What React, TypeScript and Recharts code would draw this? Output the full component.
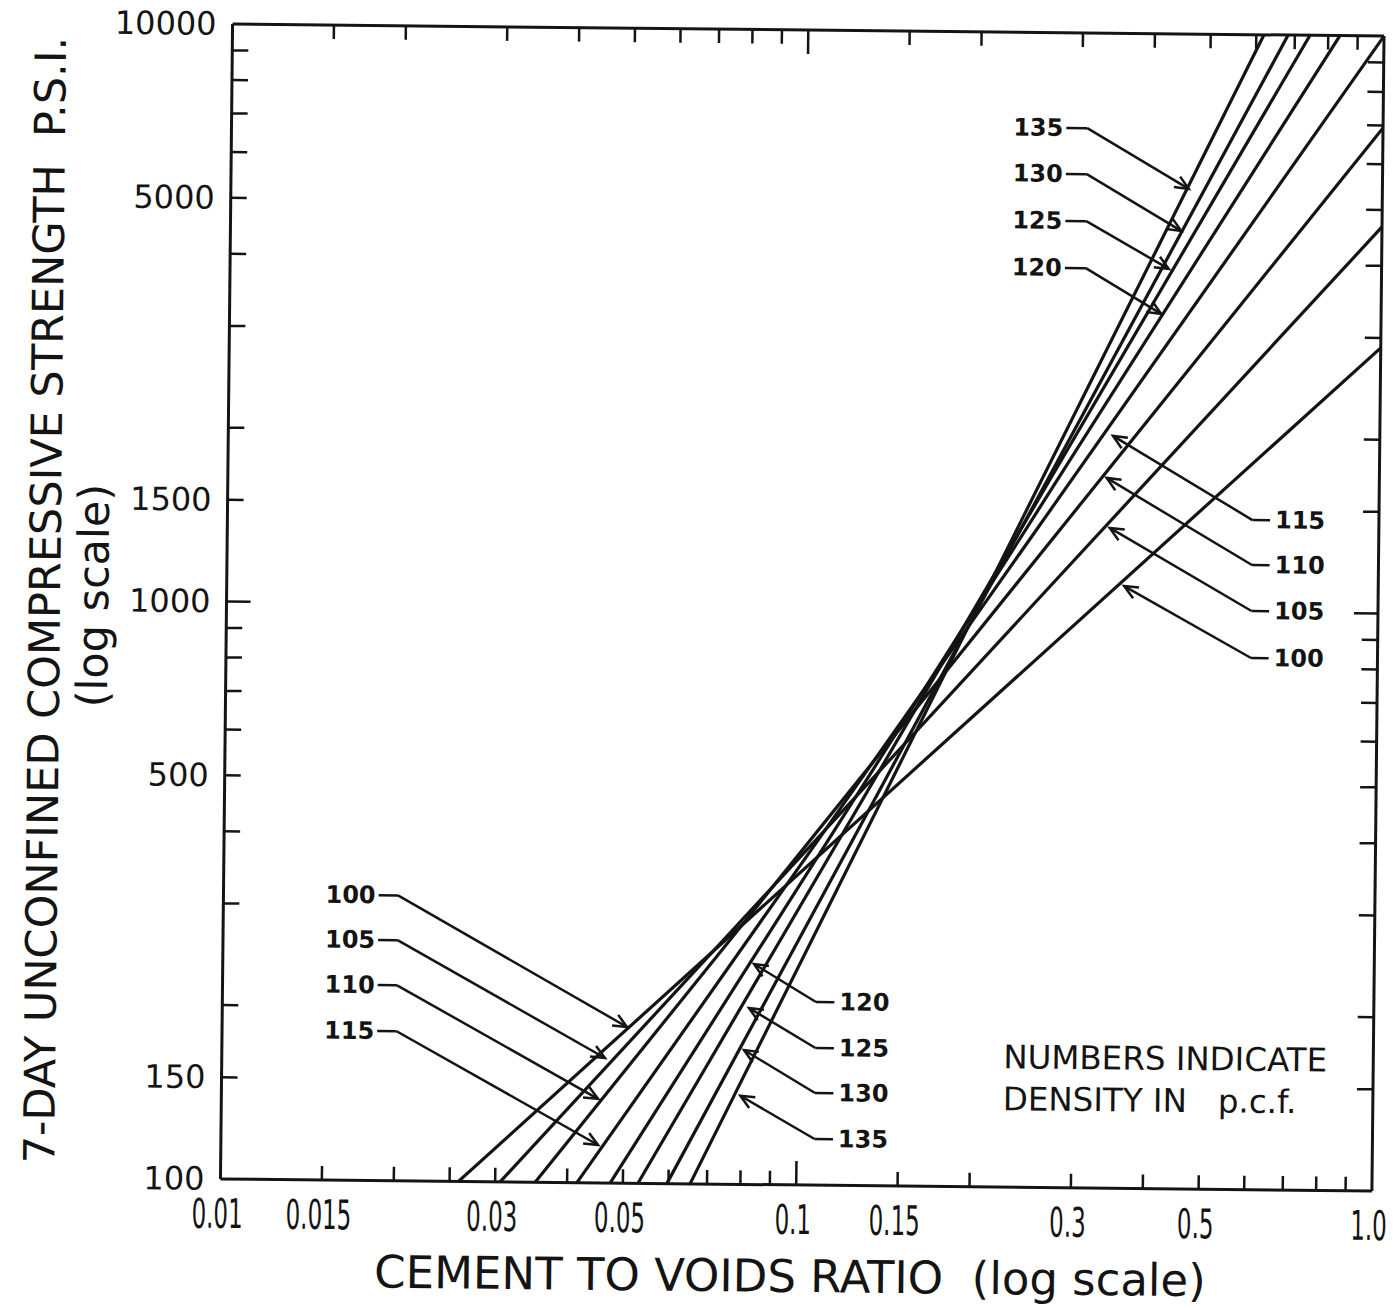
import { LineChart, Line, XAxis, YAxis, ReferenceLine } from "recharts"

const ink = "#141414"

const densities = [100, 105, 110, 115, 120, 125, 130, 135]
// cement/voids ratio where each density line leaves the 100 psi floor
const startRatio = [0.0259, 0.0306, 0.0352, 0.0416, 0.0475, 0.0531, 0.0596, 0.0654]
// where each line runs off the chart (right edge or top edge)
const endRatio = [1.0, 1.0, 1.0, 1.0, 0.8385, 0.7439, 0.6815, 0.6188]
const endStrength = [2884, 4672, 6931, 10000, 10000, 10000, 10000, 10000]

const xTicksBottom = [0.01, 0.015, 0.02, 0.025, 0.03, 0.04, 0.05, 0.06, 0.07, 0.08, 0.09, 0.1, 0.15, 0.2, 0.3, 0.4, 0.5, 0.6, 0.7, 0.8, 0.9, 1]
const xTicksTop = [0.01, 0.015, 0.02, 0.03, 0.04, 0.05, 0.06, 0.07, 0.08, 0.09, 0.1, 0.15, 0.2, 0.3, 0.4, 0.5, 0.6, 0.7, 0.8, 0.9, 1]
const yTicks = [100, 150, 200, 300, 400, 500, 600, 700, 800, 900, 1000, 1500, 2000, 3000, 4000, 5000, 6000, 7000, 8000, 9000, 10000]
const xTickLabels = [0.01, 0.015, 0.03, 0.05, 0.1, 0.15, 0.3, 0.5, 1]
const yTickLabels = [100, 150, 500, 1000, 1500, 5000, 10000]

// density callouts (label, stub height in psi, arrow tip in data units)
const upperLeftLabels = [135, 130, 125, 120]
const upperLeftStubY = [6841, 5695, 4722, 3915]
const upperLeftTipX = [0.461, 0.448, 0.427, 0.415]
const upperLeftTipY = [5393, 4560, 3917, 3272]

const upperRightLabels = [115, 110, 105, 100]
const upperRightStubY = [1444, 1207, 1005, 833]
const upperRightTipX = [0.344, 0.336, 0.341, 0.362]
const upperRightTipY = [2008, 1698, 1391, 1104]

const lowerLeftLabels = [100, 105, 110, 115]
const lowerLeftStubY = [312, 261, 218, 181.5]
const lowerLeftTipX = [0.0505, 0.0463, 0.0451, 0.0452]
const lowerLeftTipY = [186.4, 164.6, 139.8, 116.3]

const lowerRightLabels = [120, 125, 130, 135]
const lowerRightStubY = [207.6, 172.8, 144.4, 120.2]
const lowerRightTipX = [0.0837, 0.0822, 0.0807, 0.0797]
const lowerRightTipY = [240.9, 202.1, 170.9, 142.4]

type Side = "left" | "right"
type Callout = { label: number; side: Side; outerX: number; elbowX: number; stubY: number; tipX: number; tipY: number }

function group(labels: number[], stubY: number[], tipX: number[], tipY: number[], side: Side, outerX: number, elbowX: number): Callout[] {
  return labels.map((label, i) => ({ label, side, outerX, elbowX, stubY: stubY[i], tipX: tipX[i], tipY: tipY[i] }))
}

const callouts: Callout[] = [
  ...group(upperLeftLabels, upperLeftStubY, upperLeftTipX, upperLeftTipY, "left", 0.2818, 0.3064),
  ...group(upperRightLabels, upperRightStubY, upperRightTipX, upperRightTipY, "right", 0.647, 0.603),
  ...group(lowerLeftLabels, lowerLeftStubY, lowerLeftTipX, lowerLeftTipY, "left", 0.0186, 0.0201),
  ...group(lowerRightLabels, lowerRightStubY, lowerRightTipX, lowerRightTipY, "right", 0.1156, 0.1074),
]

const fmtX = (v: number) => (v === 1 ? "1.0" : String(v))

function bottomTick(p: any) {
  const { x, y, payload } = p
  const v = payload.value
  const len = v === 0.1 ? 24 : 14
  const edge = v === 0.01 || v === 1
  return (
    <g>
      {!edge && <line x1={x} y1={y} x2={x} y2={y - len} stroke={ink} strokeWidth={2.5} />}
      {xTickLabels.includes(v) && (
        <text transform={`translate(${x - 3},${y + 49}) scale(0.56,1)`} textAnchor="middle" fontSize={41} fill={ink}>
          {fmtX(v)}
        </text>
      )}
    </g>
  )
}

function topTick(p: any) {
  const { x, y, payload } = p
  const v = payload.value
  if (v === 0.01 || v === 1) return <g />
  const len = v === 0.1 ? 24 : 14
  return <line x1={x} y1={y} x2={x} y2={y + len} stroke={ink} strokeWidth={2.5} />
}

function leftTick(p: any) {
  const { x, y, payload } = p
  const v = payload.value
  const len = v === 1000 ? 24 : 16
  const edge = v === 100 || v === 10000
  return (
    <g>
      {!edge && <line x1={x} y1={y} x2={x + len} y2={y} stroke={ink} strokeWidth={2.5} />}
      {yTickLabels.includes(v) && (
        <text x={x - 16} y={y} textAnchor="end" dominantBaseline="central" fontSize={32} fill={ink}>
          {v}
        </text>
      )}
    </g>
  )
}

function rightTick(p: any) {
  const { x, y, payload } = p
  const v = payload.value
  if (v === 100 || v === 10000) return <g />
  const len = v === 1000 ? 24 : 16
  return <line x1={x} y1={y} x2={x - len} y2={y} stroke={ink} strokeWidth={2.5} />
}

const stubShape = (label: number, side: Side) => (p: any) => (
  <g>
    <line x1={p.x1} y1={p.y1} x2={p.x2} y2={p.y2} stroke={ink} strokeWidth={2.5} />
    <text
      x={side === "left" ? p.x1 - 3 : p.x1 + 5}
      y={p.y1}
      textAnchor={side === "left" ? "end" : "start"}
      dominantBaseline="central"
      fontSize={24}
      fontWeight={700}
      fill={ink}
    >
      {label}
    </text>
  </g>
)

const arrowShape = (p: any) => {
  const { x1, y1, x2, y2 } = p
  const a = Math.atan2(y2 - y1, x2 - x1)
  const L = 15
  const s = 0.42
  const w1 = `${x2 - L * Math.cos(a - s)},${y2 - L * Math.sin(a - s)}`
  const w2 = `${x2 - L * Math.cos(a + s)},${y2 - L * Math.sin(a + s)}`
  return (
    <g>
      <line x1={x1} y1={y1} x2={x2} y2={y2} stroke={ink} strokeWidth={2.5} />
      <path d={`M${w1} L${x2},${y2} L${w2}`} fill="none" stroke={ink} strokeWidth={2.5} />
    </g>
  )
}

const axisLine = { stroke: ink, strokeWidth: 3 }

export default function App() {
  const series = densities.map((d, i) => ({
    density: d,
    points: [
      { x: startRatio[i], y: 100 },
      { x: endRatio[i], y: endStrength[i] },
    ],
  }))

  return (
    <div
      style={{
        position: "absolute",
        left: 0,
        top: 0,
        width: 1394,
        height: 1310,
        background: "#fff",
        fontFamily: "'DejaVu Sans', sans-serif",
        transform: "rotate(0.6deg)",
        transformOrigin: "802px 607px",
      }}
    >
      <LineChart width={1394} height={1310} margin={{ top: 29, right: 15, bottom: 124, left: 225.5 }}>
        <XAxis
          dataKey="x"
          type="number"
          scale="log"
          domain={[0.01, 1]}
          allowDataOverflow
          ticks={xTicksBottom}
          interval={0}
          height={1}
          tickSize={0}
          tickMargin={0}
          tickLine={false}
          tick={bottomTick}
          axisLine={axisLine}
        />
        <XAxis
          xAxisId="top"
          orientation="top"
          dataKey="x"
          type="number"
          scale="log"
          domain={[0.01, 1]}
          allowDataOverflow
          ticks={xTicksTop}
          interval={0}
          height={1}
          tickSize={0}
          tickMargin={0}
          tickLine={false}
          tick={topTick}
          axisLine={axisLine}
        />
        <YAxis
          type="number"
          scale="log"
          domain={[100, 10000]}
          allowDataOverflow
          ticks={yTicks}
          interval={0}
          width={1}
          tickSize={0}
          tickMargin={0}
          tickLine={false}
          tick={leftTick}
          axisLine={axisLine}
        />
        <YAxis
          yAxisId="right"
          orientation="right"
          type="number"
          scale="log"
          domain={[100, 10000]}
          allowDataOverflow
          ticks={yTicks}
          interval={0}
          width={1}
          tickSize={0}
          tickMargin={0}
          tickLine={false}
          tick={rightTick}
          axisLine={axisLine}
        />
        {series.map((s) => (
          <Line
            key={s.density}
            data={s.points}
            dataKey="y"
            type="linear"
            stroke={ink}
            strokeWidth={3.2}
            dot={false}
            activeDot={false}
            isAnimationActive={false}
          />
        ))}
        {callouts.map((c, i) => (
          <ReferenceLine
            key={`stub-${i}`}
            segment={[
              { x: c.outerX, y: c.stubY },
              { x: c.elbowX, y: c.stubY },
            ]}
            shape={stubShape(c.label, c.side)}
          />
        ))}
        {callouts.map((c, i) => (
          <ReferenceLine
            key={`arrow-${i}`}
            segment={[
              { x: c.elbowX, y: c.stubY },
              { x: c.tipX, y: c.tipY },
            ]}
            shape={arrowShape}
          />
        ))}
      </LineChart>
      <svg width={1394} height={1310} style={{ position: "absolute", left: 0, top: 0, pointerEvents: "none" }}>
        <text x={797} y={1292} textAnchor="middle" fontSize={45} fill={ink} style={{ whiteSpace: "pre" }}>
          {"CEMENT TO VOIDS RATIO  (log scale)"}
        </text>
        <text transform="translate(60,608) rotate(-90)" textAnchor="middle" fontSize={43} fill={ink} style={{ whiteSpace: "pre" }}>
          {"7-DAY UNCONFINED COMPRESSIVE STRENGTH  P.S.I."}
        </text>
        <text transform="translate(108,603) rotate(-90)" textAnchor="middle" fontSize={43} fill={ink}>
          (log scale)
        </text>
        <text x={1008} y={1066} fontSize={32.5} fill={ink}>
          NUMBERS INDICATE
        </text>
        <text x={1008} y={1108} fontSize={32.5} fill={ink} style={{ whiteSpace: "pre" }}>
          {"DENSITY IN   p.c.f."}
        </text>
      </svg>
    </div>
  )
}
